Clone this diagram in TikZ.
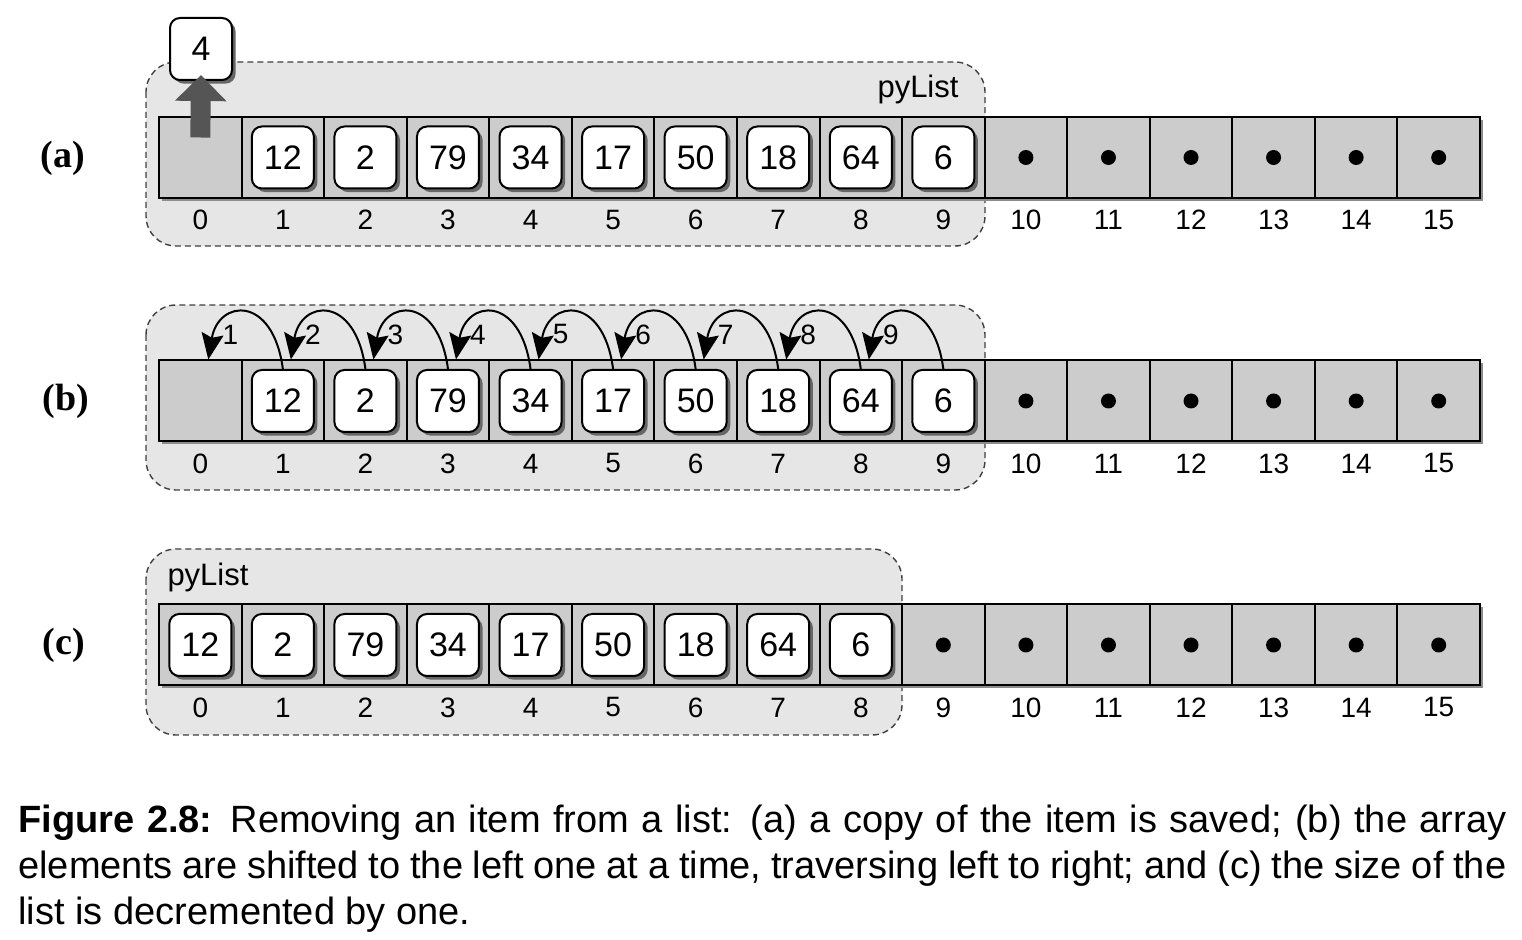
\documentclass[tikz,border=0pt]{standalone}
\usepackage{fontspec}
\setmainfont{Liberation Sans}
\newfontfamily\tagfont{Liberation Serif}
\usetikzlibrary{positioning, arrows.meta, shadows}
\definecolor{cellgray}{HTML}{CCCCCC}
\definecolor{listgray}{HTML}{E6E6E6}
\definecolor{liftgray}{HTML}{555555}
\tikzstyle{cell} = [draw=black, line width=1pt, rectangle, fill=cellgray, minimum width=41.28pt, minimum height=40.5pt, inner sep=0pt]
\tikzstyle{item} = [draw=black, line width=1pt, rectangle, rounded corners=5pt, fill=white, minimum size=31pt, inner sep=0pt, font=\fontsize{17}{18}\selectfont, drop shadow={shadow xshift=1.8pt, shadow yshift=-1.8pt, fill=black!60, opacity=1}]
\tikzstyle{index} = [font=\fontsize{14}{15}\selectfont, inner sep=0pt]
\tikzstyle{region} = [draw=black!75, line width=0.7pt, dash pattern=on 3pt off 2pt, fill=listgray, rounded corners=15pt]
\tikzstyle{shiftarrow} = [-{Stealth[length=13pt, width=11pt, inset=2pt]}, line width=1pt]
\tikzstyle{tag} = [font=\tagfont\bfseries\fontsize{19}{20}\selectfont]

\begin{document}
\begin{tikzpicture}[x=0.5pt, y=-0.5pt]
	\useasboundingbox (0,0) rectangle (1522,940);
	%regions
	\draw[region] (146,62) rectangle (985,246);
	\draw[region] (146,305) rectangle (985,490);
	\draw[region] (146,549) rectangle (902,735);
	\node[font=\fontsize{15.5}{16}\selectfont] (namea) at (918,89) {pyList};
	\node[font=\fontsize{15.5}{16}\selectfont] (namec) at (208,577) {pyList};

	%arrays
	\foreach \row/\y in {a/157.5, b/401, c/645} {
		\fill[black!45] (162,\y-37.5) rectangle (1483,\y+43.5);
		\foreach \i in {0,...,15} {
			\node[cell] (\row\i) at ({200.3+82.56*\i},\y) {};
			\node[index] (\row n\i) at ([yshift=-31.25pt]\row\i) {\i};
		}
	}

	%items
	\foreach \v [count=\i] in {12,2,79,34,17,50,18,64,6} {
		\node[item] (av\i) at (a\i) {\v};
		\node[item] (bv\i) at (b\i) {\v};
	}
	\foreach \v [count=\i from 0] in {12,2,79,34,17,50,18,64,6}
		\node[item] (cv\i) at (c\i) {\v};
	\foreach \i in {10,...,15} {
		\fill (a\i) circle (3.75pt);
		\fill (b\i) circle (3.75pt);
	}
	\foreach \i in {9,...,15}
		\fill (c\i) circle (3.75pt);

	%saved item
	\node[item] (saved) at (201,49) {4};
	\draw[liftgray, line width=10pt, -{Triangle[width=25pt, length=13pt]}] ([yshift=10pt]a0.center) -- ([yshift=3pt]saved.south);

	%shifts
	\foreach \i in {1,...,9} {
		\pgfmathtruncatemacro\j{\i-1}
		\draw[shiftarrow] (bv\i.north) .. controls +(-10,-75) and +(10,-60) .. ([xshift=4pt]b\j.north);
		\node[index] (hop\i) at ([xshift=15pt, yshift=12.5pt]b\j.north) {\i};
	}

	%labels
	\node[tag] (taga) at (63,158) {(a)};
	\node[tag] (tagb) at (66,401) {(b)};
	\node[tag] (tagc) at (64,645) {(c)};
	\node[anchor=north west, inner sep=0pt, text width=744pt, align=justify, font=\fontsize{19}{23}\selectfont] (caption) at (18,805) {\textbf{Figure 2.8:} Removing an item from a list: (a) a copy of the item is saved; (b) the array\linebreak elements are shifted to the left one at a time, traversing left to right; and (c) the size of the\linebreak list is decremented by one.};
\end{tikzpicture}
\end{document}
